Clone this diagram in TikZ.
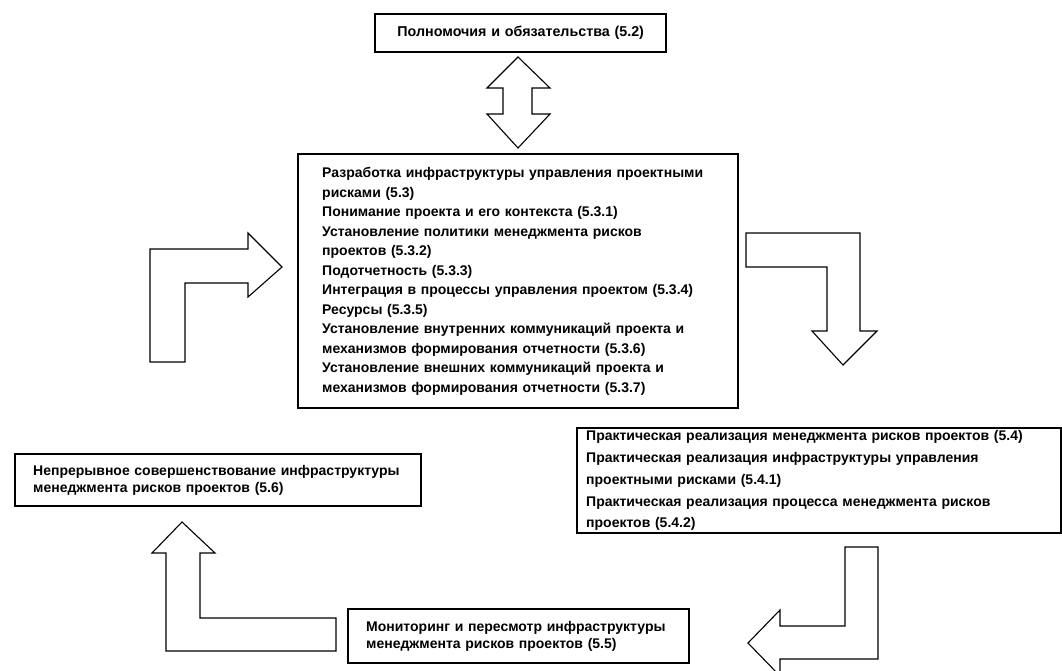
\documentclass[tikz,border=0pt]{standalone}
\usepackage{fontspec}
\setmainfont{Liberation Sans}
\begin{document}
\begin{tikzpicture}[x=1pt,y=-1pt,
  box/.style={draw, line width=2.4pt, inner ysep=0pt, anchor=north west,
    font=\bfseries\fontsize{14}{19.5}\selectfont, align=left},
  smallbox/.style={box, font=\bfseries\fontsize{14}{17}\selectfont},
  blockarrow/.style={draw, line width=1.1pt, line join=miter}]
\clip (0,0) rectangle (1062,670);
\useasboundingbox (0,0) rectangle (1062,670);

% boxes
\node[box, align=center, font=\bfseries\fontsize{14.3}{17}\selectfont,
  minimum width=291pt, minimum height=38pt, text width=281pt, inner xsep=5pt]
  (auth) at (374,13) {Полномочия и обязательства (5.2)};

\node[box, minimum width=440pt, minimum height=254pt, text width=392pt, inner xsep=24pt]
  (dev) at (297,153) {Разработка инфраструктуры управления проектными\\
рисками (5.3)\\
Понимание проекта и его контекста (5.3.1)\\
Установление политики менеджмента рисков\\
проектов (5.3.2)\\
Подотчетность (5.3.3)\\
Интеграция в процессы управления проектом (5.3.4)\\
Ресурсы (5.3.5)\\
Установление внутренних коммуникаций проекта и\\
механизмов формирования отчетности (5.3.6)\\
Установление внешних коммуникаций проекта и\\
механизмов формирования отчетности (5.3.7)};

\node[box, font=\bfseries\fontsize{14}{21.75}\selectfont, minimum width=484pt, minimum height=105pt, text width=466pt, inner xsep=9pt]
  (impl) at (576,427) {Практическая реализация менеджмента рисков проектов (5.4)\\
Практическая реализация инфраструктуры управления\\
проектными рисками (5.4.1)\\
Практическая реализация процесса менеджмента рисков\\
проектов (5.4.2)};

\node[smallbox, minimum width=341pt, minimum height=54pt, text width=305pt, inner xsep=18pt]
  (mon) at (347,608) {Мониторинг и пересмотр инфраструктуры\\
менеджмента рисков проектов (5.5)};

\node[smallbox, minimum width=406pt, minimum height=52pt, text width=370pt, inner xsep=18pt]
  (imp) at (14,453) {Непрерывное совершенствование инфраструктуры\\
менеджмента рисков проектов (5.6)};

% block arrows
% double arrow between auth and dev
\draw[blockarrow] (518,57) -- (550,88) -- (532,88) -- (532,114) -- (550,114) -- (518,148)
  -- (487,114) -- (503,114) -- (503,88) -- (487,88) -- cycle;
% left L-arrow into dev
\draw[blockarrow] (150,362) -- (150,249) -- (248,249) -- (248,233) -- (282,267)
  -- (248,297) -- (248,283) -- (185,283) -- (185,362) -- cycle;
% right L-arrow down to impl
\draw[blockarrow] (746,233) -- (860,233) -- (860,331) -- (877,331) -- (843,365)
  -- (812,331) -- (827,331) -- (827,267) -- (746,267) -- cycle;
% bottom-right arrow to mon
\draw[blockarrow] (845,547) -- (878,547) -- (878,659) -- (780,659) -- (780,676)
  -- (748,643) -- (780,610) -- (780,626) -- (845,626) -- cycle;
% bottom-left arrow up to imp
\draw[blockarrow] (182,522) -- (215,553) -- (200,553) -- (200,618) -- (336,618)
  -- (336,651) -- (166,651) -- (166,553) -- (152,553) -- cycle;
\end{tikzpicture}
\end{document}
